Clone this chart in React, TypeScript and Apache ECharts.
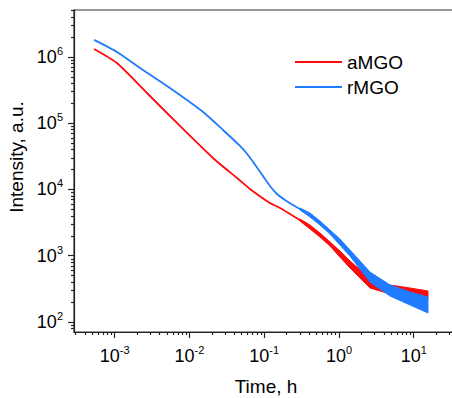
import React, { useEffect, useRef } from "react";
import * as echarts from "echarts";

// ---- data (time in h, intensity in a.u.) ----
const timeRed = [5.3e-4, 1.07e-3, 2.7e-3, 7.46e-3, 2.06e-2, 4.32e-2, 6.45e-2, 0.1194, 0.1624, 0.2211, 0.3008, 0.4093, 0.5569, 0.758, 1.031, 1.403, 1.741, 2.598, 4.812, 8.909, 15.51];
const intRed = [1.32e6, 8.1e5, 2.86e5, 9.09e4, 2.99e4, 1.49e4, 1.02e4, 6250, 5260, 4270, 3467, 2715, 2055, 1505, 1063, 750, 609, 388, 304, 274, 256];

const timeBlue = [5.3e-4, 1.07e-3, 2.39e-3, 5.48e-3, 1.52e-2, 2.81e-2, 4.74e-2, 0.06063, 0.07756, 0.09623, 0.1194, 0.1481, 0.1895, 0.2424, 0.3008, 0.4093, 0.5569, 0.758, 1.031, 1.403, 1.741, 2.598, 4.812, 8.909, 15.51];
const intBlue = [1.81e6, 1.19e6, 6.37e5, 3.4e5, 1.48e5, 7.91e4, 4.54e4, 33170, 22630, 15990, 11290, 8553, 6942, 5834, 5078, 4120, 3120, 2282, 1614, 1102, 863, 478, 304, 230, 181];

// noisy tail envelopes
const bandTime = [0.3008, 0.4093, 0.5569, 0.758, 1.031, 1.403, 2.598, 4.812, 8.909, 15.51];
const redUpper = [3590, 2910, 2203, 1614, 1181, 834, 461, 362, 326, 294];
const redLower = [3350, 2535, 1918, 1403, 957, 653, 326, 265, 230, 222];
const blueUpper = [5260, 4420, 3350, 2447, 1790, 1222, 569, 362, 284, 238];
const blueLower = [4910, 3845, 2910, 2128, 1453, 991, 402, 247, 181, 137];

// axis decades (exponents)
const xMajorExp = [-3, -2, -1, 0, 1];
const yMajorExp = [2, 3, 4, 5, 6];
const xDecades = [-4, -3, -2, -1, 0, 1];
const yDecades = [1, 2, 3, 4, 5, 6];
const minorMult = [2, 3, 4, 5, 6, 7, 8, 9];

const X_MIN = -3.545;
const X_MAX = 1.78;
const Y_MIN = 1.849;
const Y_MAX = 6.709;

const RED = "#FF0A0A";
const BLUE = "#1F7BFF";
const FONT = "'Liberation Sans', Arial, sans-serif";

const lg = (v: number) => Math.log10(v);

function minors(decades: number[], lo: number, hi: number) {
  const out: number[] = [];
  decades.forEach((d) => {
    minorMult.forEach((m) => {
      const v = d + Math.log10(m);
      if (v >= lo && v <= hi) out.push(v);
    });
  });
  return out;
}

function bandSeries(name: string, upper: number[], lower: number[], color: string, z: number) {
  return {
    type: "custom",
    name,
    silent: true,
    z,
    data: [[lg(bandTime[0]), lg(upper[0])]],
    renderItem: (_params: any, api: any) => {
      const pts: number[][] = [];
      for (let i = 0; i < bandTime.length; i++) pts.push(api.coord([lg(bandTime[i]), lg(upper[i])]));
      for (let i = bandTime.length - 1; i >= 0; i--) pts.push(api.coord([lg(bandTime[i]), lg(lower[i])]));
      return { type: "polygon", shape: { points: pts }, style: { fill: color, stroke: color, lineWidth: 1 } };
    },
  };
}

export default function App() {
  const ref = useRef<HTMLDivElement>(null);
  useEffect(() => {
    if (!ref.current) return;
    const chart = echarts.init(ref.current, null, { renderer: "svg" });
    const axisColor = "#222";
    const rich = {
      b: { fontSize: 18, fontFamily: FONT, color: "#000" },
      s: { fontSize: 11, fontFamily: FONT, color: "#000", padding: [0, 0, 12, 0] },
    };
    const fmt = (v: number) => `{b|10}{s|${Math.round(v)}}`;
    const line = { color: axisColor, width: 1.2 };
    const option: any = {
      animation: false,
      grid: {
        left: 74, top: 10, right: -20, bottom: 66,
        show: true, borderColor: "#333", borderWidth: 1.2, backgroundColor: "transparent",
        containLabel: false, outerBoundsMode: "none",
      },
      legend: {
        data: ["aMGO", "rMGO"],
        orient: "vertical",
        left: 295,
        top: 52,
        padding: 0,
        itemGap: 5,
        itemWidth: 47,
        itemHeight: 2,
        icon: "rect",
        textStyle: { fontSize: 19, fontFamily: FONT, color: "#000", lineHeight: 20 },
      },
      xAxis: [
        {
          type: "value",
          min: X_MIN,
          max: X_MAX,
          position: "bottom",
          name: "Time, h",
          nameLocation: "middle",
          nameGap: 45,
          nameTextStyle: { fontSize: 19, fontFamily: FONT, color: "#000", padding: [0, 14, 0, 0] },
          axisLine: { show: true, onZero: false, lineStyle: line },
          axisTick: { show: true, length: 6, customValues: xMajorExp, lineStyle: line },
          axisLabel: { customValues: xMajorExp, margin: 12, formatter: fmt, rich },
          splitLine: { show: false },
        },
        {
          type: "value",
          min: X_MIN,
          max: X_MAX,
          position: "bottom",
          axisLine: { show: false, onZero: false },
          axisTick: { show: true, length: 3, customValues: minors(xDecades, X_MIN, X_MAX), lineStyle: line },
          axisLabel: { show: false },
          splitLine: { show: false },
        },
      ],
      yAxis: [
        {
          type: "value",
          min: Y_MIN,
          max: Y_MAX,
          position: "left",
          name: "Intensity, a.u.",
          nameLocation: "middle",
          nameGap: 41,
          nameTextStyle: { fontSize: 19, fontFamily: FONT, color: "#000", padding: [0, 0, 0, 28] },
          axisLine: { show: true, onZero: false, lineStyle: line },
          axisTick: { show: true, length: 6, customValues: yMajorExp, lineStyle: line },
          axisLabel: { customValues: yMajorExp, margin: 11, formatter: fmt, rich },
          splitLine: { show: false },
        },
        {
          type: "value",
          min: Y_MIN,
          max: Y_MAX,
          position: "left",
          axisLine: { show: false, onZero: false },
          axisTick: { show: true, length: 3, customValues: minors(yDecades, Y_MIN, Y_MAX), lineStyle: line },
          axisLabel: { show: false },
          splitLine: { show: false },
        },
      ],
      series: [
        {
          type: "line",
          name: "aMGO",
          z: 2,
          data: timeRed.map((t, i) => [lg(t), lg(intRed[i])]),
          showSymbol: false,
          smooth: 0.2,
          color: RED,
          lineStyle: { color: RED, width: 1.8 },
        },
        bandSeries("aMGO-band", redUpper, redLower, RED, 3),
        {
          type: "line",
          name: "rMGO",
          z: 4,
          data: timeBlue.map((t, i) => [lg(t), lg(intBlue[i])]),
          showSymbol: false,
          smooth: 0.2,
          color: BLUE,
          lineStyle: { color: BLUE, width: 1.8 },
        },
        bandSeries("rMGO-band", blueUpper, blueLower, BLUE, 5),
      ],
    };
    chart.setOption(option);
    return () => chart.dispose();
  }, []);
  return <div ref={ref} style={{ position: "absolute", left: 0, top: 0, width: 452, height: 398 }} />;
}
